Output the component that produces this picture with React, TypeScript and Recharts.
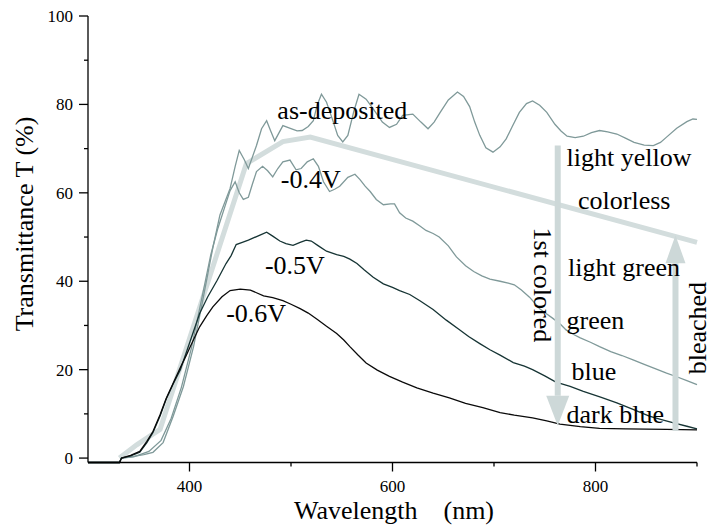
import { LineChart, Line, XAxis, YAxis, ReferenceLine, ReferenceDot, Label } from "recharts";

// wavelength (nm), transmittance (%)
const asDeposited: [number, number][] = [
  [300,-1],[331,-1],[333,0],[345,0.4],[355,0.8],[364,1.3],[374,3.5],[384,9.5],[394,16.2],[404,25.2],[413,35.6],[423,47.6],[430,55],[440,61],[445,66],[449,69.6],[454,67.5],[458,65.5],[466,70.7],[471,74.5],[476,76.3],[480,74],[484,71.8],[488,73.5],[492,75.2],[500,74.5],[506,74],[511,74.1],[517,75],[522,76.3],[526,80],[530,82.3],[535,80.5],[541,76.5],[546,73],[551,71.5],[556,73],[562,78.5],[567,82.3],[574,81.2],[581,79],[590,76],[597,74.8],[604,75.5],[610,77.5],[620,77.8],[628,76],[635,74.5],[641,76],[647,78.2],[655,81],[664,82.8],[670,81.8],[676,79.5],[681,76],[686,73],[692,70.2],[699,69.2],[706,70.4],[712,72.2],[718,75],[725,78.2],[732,80.2],[738,80.8],[745,79.8],[752,78.2],[760,75.5],[766,74],[772,72.8],[780,72.5],[788,72.8],[796,73.6],[804,74.1],[812,73.8],[821,73.3],[830,72.3],[838,71.4],[848,70.8],[857,70.7],[864,71.4],[870,72.6],[880,74.6],[890,76.1],[896,76.7],[900,76.6],
];

const minus04: [number, number][] = [
  [300,-1],[331,-1],[333,0],[345,0.3],[360,1.5],[372,4],[382,9],[392,16],[402,25],[412,36],[421,46],[428,52],[435,57],[440,60.5],[445,62.5],[449,60],[453,58.5],[458,59],[462,62],[466,64.8],[472,66],[477,65],[482,63.6],[487,65.5],[492,67],[499,67.4],[505,65.2],[510,65.5],[516,67],[522,67.7],[527,66],[532,62.5],[538,60.3],[543,60.8],[548,61.5],[556,63.5],[563,64.2],[568,63],[573,61.5],[578,60.3],[584,58.5],[591,57.3],[598,57.5],[602,57.5],[607,55.5],[613,54.3],[620,53.6],[627,52.5],[633,51.5],[640,50.8],[646,50],[655,48],[663,45.5],[672,43.5],[680,42.2],[688,41.2],[696,40.5],[706,40],[714,39.6],[720,39.2],[727,38],[735,36.4],[745,33.8],[752,32.6],[758,31.6],[765,30.4],[771,29],[778,28],[785,27.2],[795,26.2],[804,25.2],[815,24.1],[826,23.2],[837,22.2],[848,21.2],[860,20.1],[870,19.2],[880,18.4],[890,17.5],[900,16.6],
];

const minus05: [number, number][] = [
  [300,-1],[331,-1],[333,0],[342,0.5],[351,1.3],[358,3.5],[364,5.8],[371,9.5],[377,13.3],[384,16.8],[391,20],[397,24],[403,28],[410,32.7],[418,36.5],[427,40.1],[436,44],[441,45.8],[446,48.3],[452,48.8],[458,49.3],[463,49.8],[470,50.5],[476,51.1],[482,50.2],[489,49.1],[495,48.5],[502,48.1],[509,48.8],[515,49.3],[520,49.1],[527,48],[535,46.8],[545,46],[552,45.6],[558,45],[565,44],[572,42.6],[581,40.9],[591,39.4],[600,38.6],[607,37.9],[617,37],[627,35.6],[640,33.6],[653,31.2],[665,29.2],[675,27.5],[686,25.9],[696,24.5],[706,23.3],[719,21.6],[730,20.8],[738,20],[750,18.6],[761,17.2],[775,16.2],[788,15.1],[805,13.8],[821,12.5],[837,11],[853,9.5],[865,8.7],[876,8],[890,7.2],[900,6.6],
];

const minus06: [number, number][] = [
  [300,-1],[331,-1],[333,0],[342,0.6],[351,1.5],[358,3.8],[364,6],[371,9.8],[377,13.5],[384,17],[391,20.5],[397,23.3],[403,26.3],[410,29.7],[417,32.2],[423,34.2],[432,36.5],[440,37.9],[450,38.2],[460,38],[466,37.4],[473,36.7],[482,36.3],[492,35.6],[500,34.8],[509,33.8],[517,32.8],[525,31.5],[535,29.8],[545,28.2],[552,26.7],[558,25.2],[566,23.3],[574,21.5],[585,19.9],[597,18.5],[610,17.2],[624,15.9],[640,14.7],[656,13.6],[672,12.4],[689,11.4],[706,10.3],[720,9.7],[738,9.1],[752,8.4],[765,7.7],[785,7.1],[804,6.7],[830,6.6],[870,6.5],[900,6.4],
];

// thick guide line through the as-deposited envelope
const guide: [number, number][] = [
  [331,0],[348,3],[371,6.5],[456,66.6],[492,71.6],[519,72.6],[900,48.8],
];

const xTicks = [400, 500, 600, 700, 800, 900];
const xLabeled = [400, 600, 800];
const yTicks = [0, 10, 20, 30, 40, 50, 60, 70, 80, 90, 100];
const yLabeled = [0, 20, 40, 60, 80, 100];

const curveLabels = [
  { text: "as-deposited", nm: 550.6, t: 76.7, anchor: "middle" },
  { text: "-0.4V", nm: 519.4, t: 61.0, anchor: "middle" },
  { text: "-0.5V", nm: 503.8, t: 41.6, anchor: "middle" },
  { text: "-0.6V", nm: 465.7, t: 30.8, anchor: "middle" },
  { text: "light yellow", nm: 771.4, t: 66.1, anchor: "start" },
  { text: "colorless", nm: 782.8, t: 56.4, anchor: "start" },
  { text: "light green", nm: 773, t: 41.3, anchor: "start" },
  { text: "green", nm: 771.4, t: 29.3, anchor: "start" },
  { text: "blue", nm: 776.3, t: 17.7, anchor: "start" },
  { text: "dark blue", nm: 771.4, t: 8.0, anchor: "start" },
];

const toRows = (pts: [number, number][]) => pts.map(([nm, t]) => ({ nm, t }));

const FONT = '"Liberation Serif", Tinos, "Times New Roman", "DejaVu Serif", serif';
const ARROW = "#cdd8d8";

const XTick = (props: any) => {
  const { x, y, payload } = props;
  const major = xLabeled.includes(payload.value);
  return (
    <g>
      <line x1={x} y1={y} x2={x} y2={y + (major ? 9 : 4)} stroke="#000" strokeWidth={1.3} />
      {major && (
        <text x={x} y={y + 29} textAnchor="middle" style={{ fontFamily: FONT, fontSize: 17 }} fill="#000">
          {payload.value}
        </text>
      )}
    </g>
  );
};

const YTick = (props: any) => {
  const { x, y, payload } = props;
  const major = yLabeled.includes(payload.value);
  return (
    <g>
      <line x1={x - (major ? 9 : 4)} y1={y} x2={x} y2={y} stroke="#000" strokeWidth={1.3} />
      {major && (
        <text x={x - 15} y={y} dy="0.35em" textAnchor="end" style={{ fontFamily: FONT, fontSize: 17 }} fill="#000">
          {payload.value}
        </text>
      )}
    </g>
  );
};

const arrowShape = (headLen: number, headW: number) => (props: any) => {
  const { x1, y1, x2, y2 } = props;
  const dir = Math.sign(y2 - y1);
  const baseY = y2 - dir * headLen;
  return (
    <g>
      <line x1={x1} y1={y1} x2={x2} y2={baseY} stroke={ARROW} strokeWidth={6} />
      <polygon points={`${x2 - headW / 2},${baseY} ${x2 + headW / 2},${baseY} ${x2},${y2}`} fill={ARROW} />
    </g>
  );
};

const textShape = (text: string, anchor: string, rotate = 0) => (props: any) => {
  const { cx, cy } = props;
  return (
    <text
      x={cx}
      y={cy}
      textAnchor={anchor}
      dominantBaseline={rotate ? "central" : "auto"}
      transform={rotate ? `rotate(${rotate} ${cx} ${cy})` : undefined}
      style={{ fontFamily: FONT, fontSize: 26 }}
      fill="#000"
    >
      {text}
    </text>
  );
};

export default function App() {
  return (
    <div style={{ position: "absolute", left: 0, top: 0, background: "#fff", fontFamily: FONT }}>
      <LineChart width={715} height={527} margin={{ top: 16, right: 18, left: 10, bottom: 14.5 }}>
        <XAxis
          type="number"
          dataKey="nm"
          domain={[300, 900]}
          ticks={xTicks}
          interval={0}
          tick={<XTick />}
          tickLine={false}
          tickSize={0}
          tickMargin={0}
          height={50}
          axisLine={{ stroke: "#000", strokeWidth: 1.3 }}
        >
          <Label
            content={(p: any) => {
              const vb = p.viewBox;
              return (
                <text x={vb.x + 306} y={vb.y + 56.5} textAnchor="middle" style={{ fontFamily: FONT, fontSize: 26 }} fill="#000">
                  <tspan>Wavelength</tspan>
                  <tspan dx={26}>(nm)</tspan>
                </text>
              );
            }}
          />
        </XAxis>
        <YAxis
          type="number"
          dataKey="t"
          domain={[0, 100]}
          ticks={yTicks}
          interval={0}
          tick={<YTick />}
          tickLine={false}
          tickSize={0}
          tickMargin={0}
          width={78}
          axisLine={{ stroke: "#000", strokeWidth: 1.3 }}
        >
          <Label
            content={() => {
              const cx = 33;
              const cy = 224;
              return (
                <text x={cx} y={cy} textAnchor="middle" transform={`rotate(-90 ${cx} ${cy})`} style={{ fontFamily: FONT, fontSize: 26 }} fill="#000">
                  Transmittance T (%)
                </text>
              );
            }}
          />
        </YAxis>

        <Line data={toRows(guide)} dataKey="t" stroke="#d3dddd" strokeWidth={5} dot={false} isAnimationActive={false} />
        <Line data={toRows(asDeposited)} dataKey="t" stroke="#7f9999" strokeWidth={1.3} dot={false} isAnimationActive={false} />
        <Line data={toRows(minus04)} dataKey="t" stroke="#7f9999" strokeWidth={1.3} dot={false} isAnimationActive={false} />
        <Line data={toRows(minus05)} dataKey="t" stroke="#163434" strokeWidth={1.3} dot={false} isAnimationActive={false} />
        <Line data={toRows(minus06)} dataKey="t" stroke="#0a0a0a" strokeWidth={1.3} dot={false} isAnimationActive={false} />

        <ReferenceLine segment={[{ x: 762.8, y: 70.7 }, { x: 762.8, y: 7.3 }]} ifOverflow="visible" shape={arrowShape(30, 23)} />
        <ReferenceLine segment={[{ x: 878.8, y: 6.2 }, { x: 878.8, y: 50.4 }]} ifOverflow="visible" shape={arrowShape(28, 20)} />

        {curveLabels.map((l) => (
          <ReferenceDot key={l.text} x={l.nm} y={l.t} r={0} ifOverflow="visible" shape={textShape(l.text, l.anchor)} />
        ))}
        <ReferenceDot x={748.2} y={39.2} r={0} ifOverflow="visible" shape={textShape("1st colored", "middle", 90)} />
        <ReferenceDot x={900.5} y={29.4} r={0} ifOverflow="visible" shape={textShape("bleached", "middle", -90)} />
      </LineChart>
    </div>
  );
}
